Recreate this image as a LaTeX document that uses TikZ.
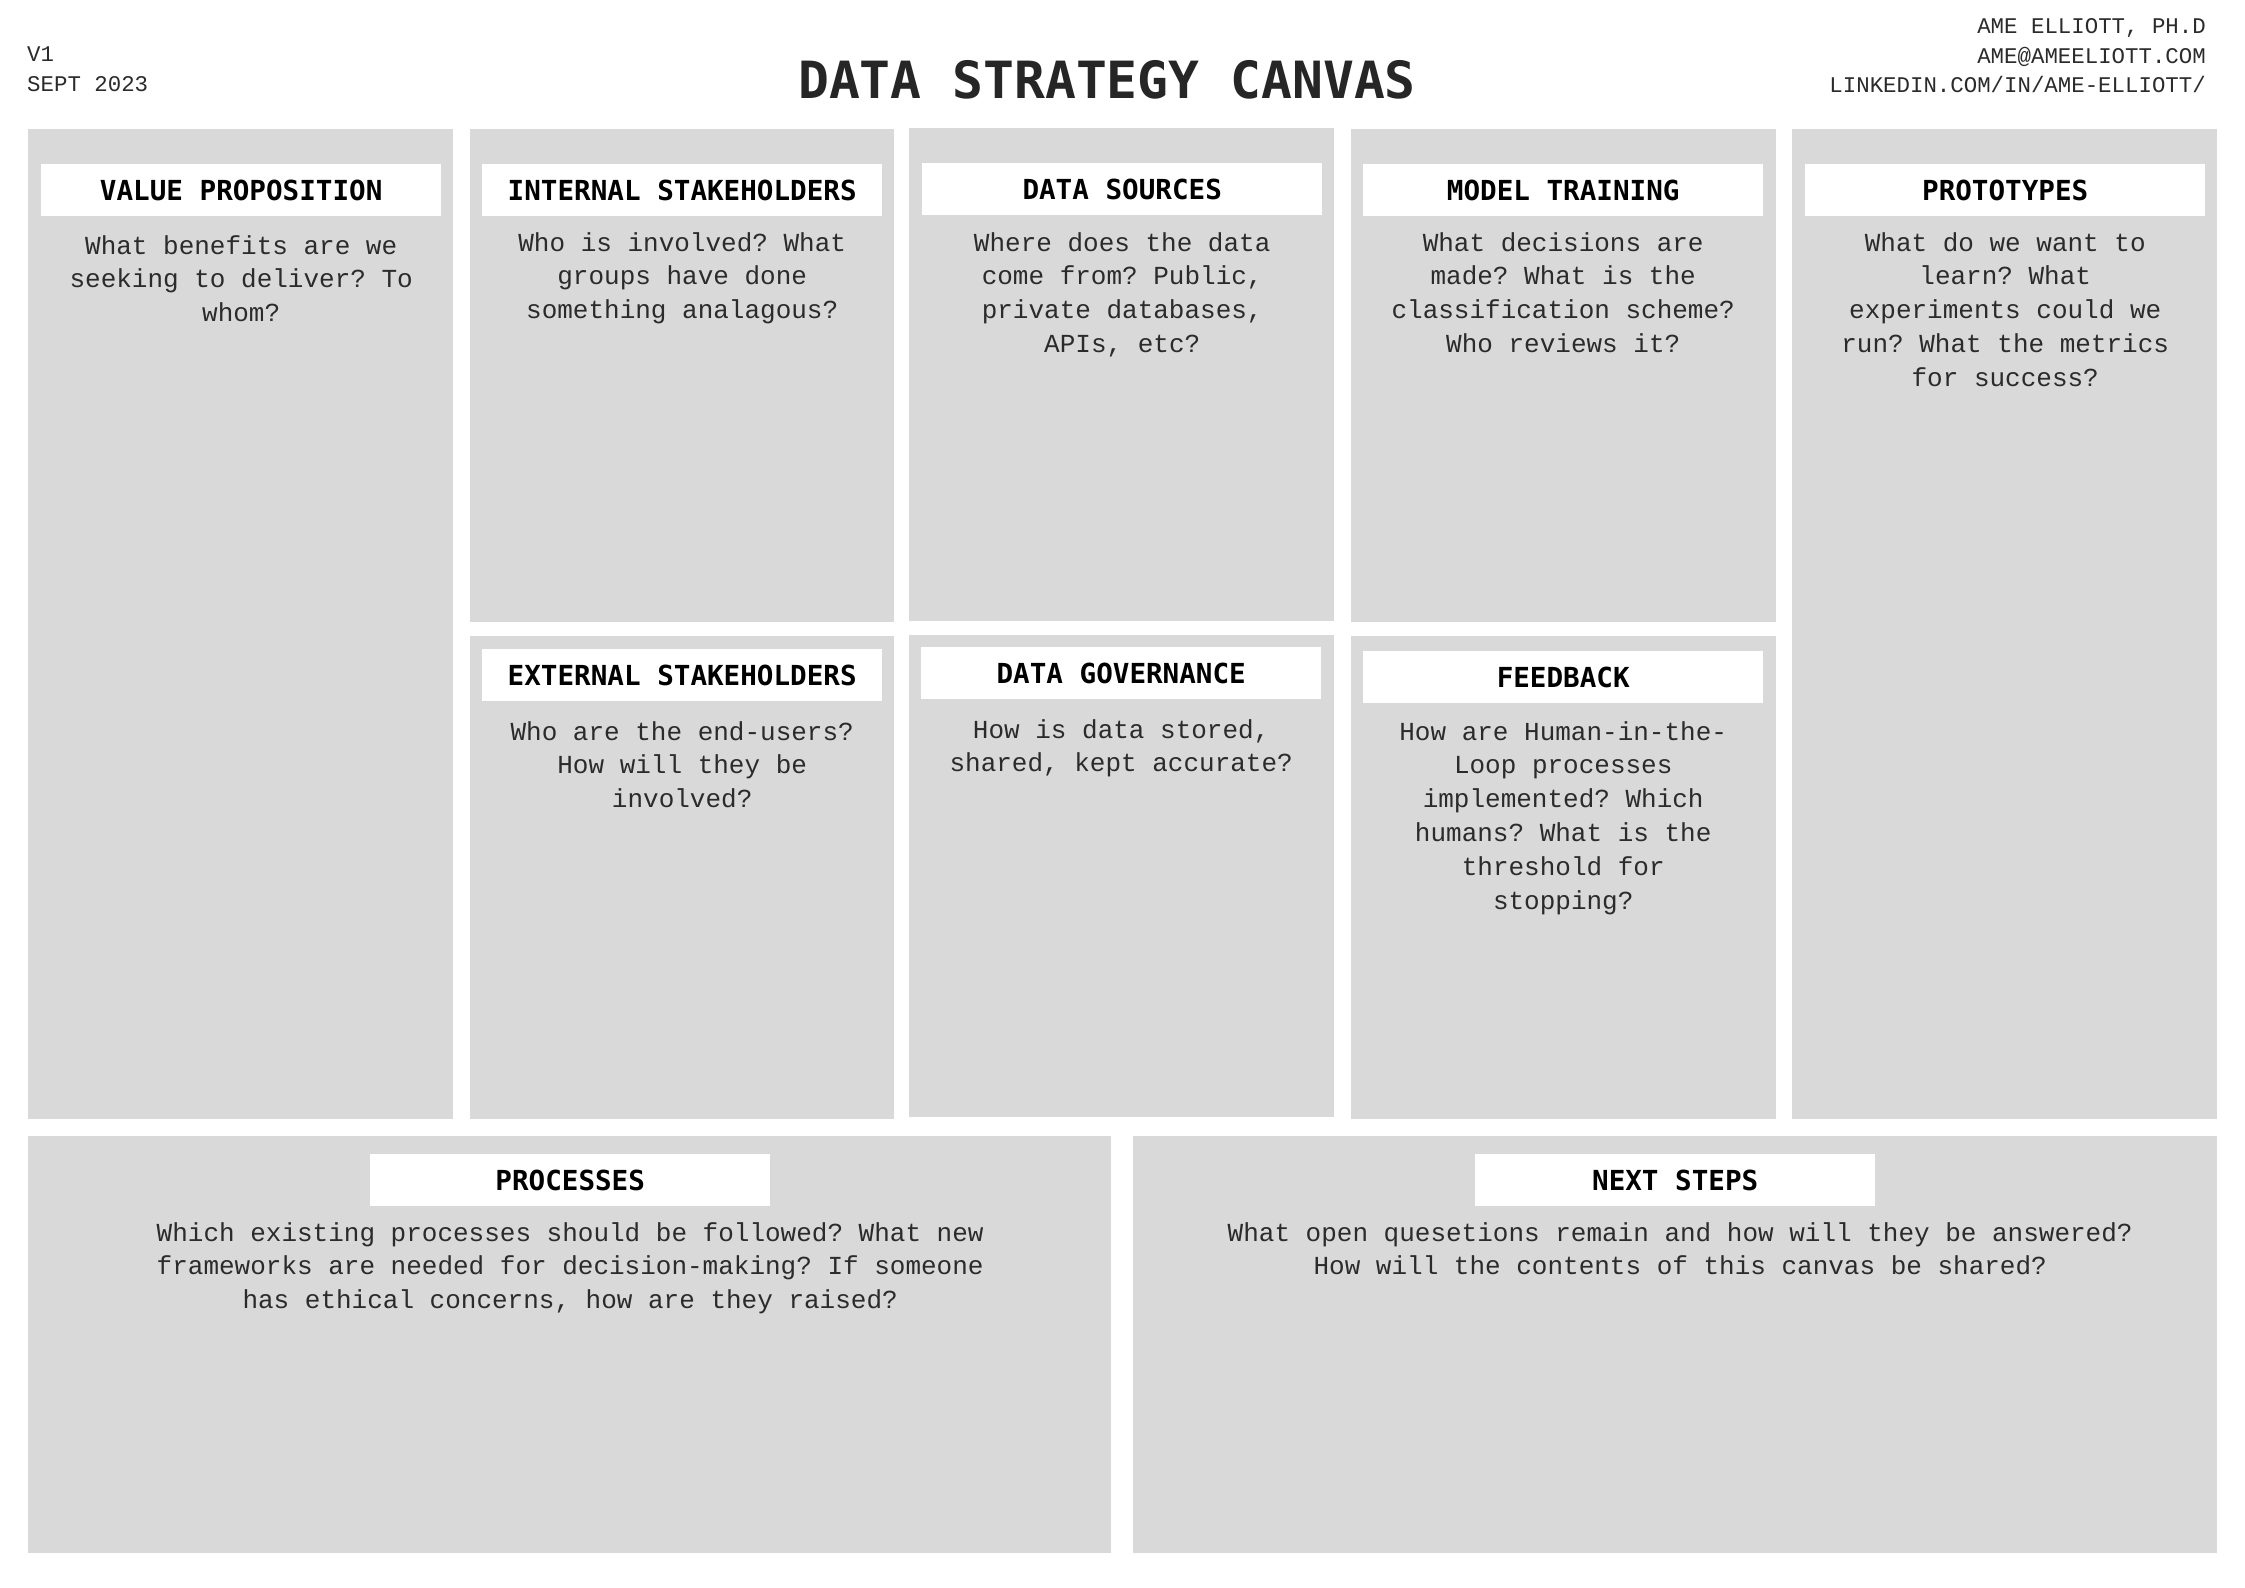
\documentclass[tikz,border=0pt]{standalone}
\usepackage{fontspec}
\setmainfont{Liberation Mono}
\newfontfamily\headfont{DejaVu Sans Mono}
\definecolor{panelgray}{HTML}{D9D9D9}
\definecolor{ink}{HTML}{2B2B2B}
\definecolor{titleink}{HTML}{262626}
% single spaces after ? and , in the monospaced prompts
\frenchspacing
% stacked, centred lines whose first baseline is the node's base
\newcommand{\stackc}[1]{\begin{tabular}[t]{@{}c@{}}#1\end{tabular}}
\newcommand{\stackr}[1]{\begin{tabular}[t]{@{}r@{}}#1\end{tabular}}
\newcommand{\stackl}[1]{\begin{tabular}[t]{@{}l@{}}#1\end{tabular}}
\tikzset{
  panel/.style={fill=panelgray},
  label/.style={fill=white, minimum width=400pt, minimum height=52pt,
    inner sep=0pt, anchor=north west, text=black,
    font=\headfont\bfseries\fontsize{27.6}{27.6}\selectfont},
  prompt/.style={anchor=base, inner sep=0pt, text=ink,
    font=\frenchspacing\fontsize{26}{33.8}\selectfont},
  meta/.style={inner sep=0pt, text=ink, font=\fontsize{22.4}{29.5}\selectfont},
}
\begin{document}
\begin{tikzpicture}[x=1pt,y=-1pt]
\useasboundingbox (0,0) rectangle (2245,1587);
\fill[white] (0,0) rectangle (2245,1587);

% heading row
\node[anchor=base, inner sep=0pt, text=titleink,
  font=\headfont\bfseries\fontsize{51.3}{51.3}\selectfont]
  (title) at (1107,98) {DATA STRATEGY CANVAS};
\node[meta, anchor=base west] (version) at (27,62) {\stackl{V1\\SEPT 2023}};
\node[meta, anchor=base east] (author) at (2206,34)
  {\stackr{AME ELLIOTT, PH.D\\AME@AMEELIOTT.COM\\LINKEDIN.COM/IN/AME-ELLIOTT/}};

% panels
\fill[panel] (28,129)   rectangle (453,1119);   % value proposition
\fill[panel] (470,129)  rectangle (894,622);    % internal stakeholders
\fill[panel] (470,636)  rectangle (894,1119);   % external stakeholders
\fill[panel] (909,128)  rectangle (1334,621);   % data sources
\fill[panel] (909,635)  rectangle (1334,1117);  % data governance
\fill[panel] (1351,129) rectangle (1776,622);   % model training
\fill[panel] (1351,636) rectangle (1776,1119);  % feedback
\fill[panel] (1792,129) rectangle (2217,1119);  % prototypes
\fill[panel] (28,1136)  rectangle (1111,1553);  % processes
\fill[panel] (1133,1136) rectangle (2217,1553); % next steps

% section labels
\node[label] (vpL)   at (41,164)    {VALUE PROPOSITION};
\node[label] (intL)  at (482,164)   {INTERNAL STAKEHOLDERS};
\node[label] (dsL)   at (922,163)   {DATA SOURCES};
\node[label] (mtL)   at (1363,164)  {MODEL TRAINING};
\node[label] (protL) at (1805,164)  {PROTOTYPES};
\node[label] (extL)  at (482,649)   {EXTERNAL STAKEHOLDERS};
\node[label] (govL)  at (921,647)   {DATA GOVERNANCE};
\node[label] (fbL)   at (1363,651)  {FEEDBACK};
\node[label] (procL) at (370,1154)  {PROCESSES};
\node[label] (nsL)   at (1475,1154) {NEXT STEPS};

% prompts
\node[prompt] (vpT) at (vpL.south |- 0,254)
  {\stackc{What benefits are we\\seeking to deliver? To\\whom?}};
\node[prompt] (intT) at (intL.south |- 0,251)
  {\stackc{Who is involved? What\\groups have done\\something analagous?}};
\node[prompt] (dsT) at (dsL.south |- 0,251)
  {\stackc{Where does the data\\come from? Public,\\private databases,\\APIs, etc?}};
\node[prompt] (mtT) at (mtL.south |- 0,251)
  {\stackc{What decisions are\\made? What is the\\classification scheme?\\Who reviews it?}};
\node[prompt] (protT) at (protL.south |- 0,251)
  {\stackc{What do we want to\\learn? What\\experiments could we\\run? What the metrics\\for success?}};
\node[prompt] (extT) at (extL.south |- 0,740)
  {\stackc{Who are the end-users?\\How will they be\\involved?}};
\node[prompt] (govT) at (govL.south |- 0,738)
  {\stackc{How is data stored,\\shared, kept accurate?}};
\node[prompt] (fbT) at (fbL.south |- 0,740)
  {\stackc{How are Human-in-the-\\Loop processes\\implemented? Which\\humans? What is the\\threshold for\\stopping?}};
\node[prompt] (procT) at (procL.south |- 0,1241)
  {\stackc{Which existing processes should be followed? What new\\frameworks are needed for decision-making? If someone\\has ethical concerns, how are they raised?}};
\node[prompt] (nsT) at ([xshift=5pt]nsL.south |- 0,1241)
  {\stackc{What open quesetions remain and how will they be answered?\\How will the contents of this canvas be shared?}};
\end{tikzpicture}
\end{document}
